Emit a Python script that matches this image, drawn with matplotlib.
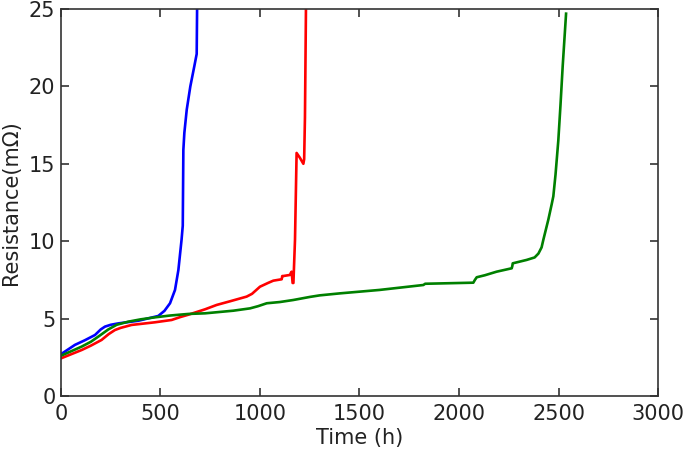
import matplotlib
matplotlib.use("Agg")
import matplotlib.pyplot as plt

blue_t = [0, 70, 120, 171, 200, 221, 250, 288, 389, 489, 520, 548, 573, 590, 606, 612, 615, 620, 632, 650, 670, 682, 684]
blue_r = [2.7, 3.3, 3.6, 3.94, 4.3, 4.48, 4.6, 4.69, 4.86, 5.17, 5.5, 5.99, 6.85, 8.14, 10.1, 11.0, 15.9, 17.0, 18.5, 20.0, 21.3, 22.1, 25.0]

red_t = [0, 104, 150, 204, 240, 271, 300, 355, 472, 556, 600, 640, 724, 782, 850, 933, 960, 1000, 1040, 1067, 1109, 1112, 1117, 1151, 1155, 1159, 1162, 1164, 1168, 1176, 1184, 1200, 1218, 1222, 1226, 1231]
red_r = [2.43, 2.97, 3.25, 3.62, 4.0, 4.26, 4.4, 4.59, 4.76, 4.91, 5.1, 5.25, 5.6, 5.88, 6.12, 6.42, 6.6, 7.06, 7.3, 7.45, 7.54, 7.75, 7.75, 7.82, 7.95, 8.03, 7.6, 7.3, 7.3, 10.1, 15.7, 15.4, 15.0, 15.3, 18.0, 25.0]

green_t = [0, 104, 150, 187, 238, 280, 338, 400, 472, 550, 640, 724, 866, 950, 990, 1034, 1100, 1167, 1251, 1300, 1402, 1600, 1821, 1830, 2072, 2080, 2089, 2130, 2189, 2265, 2268, 2270, 2340, 2380, 2399, 2415, 2424, 2449, 2466, 2474, 2485, 2499, 2510, 2521, 2538]
green_r = [2.6, 3.19, 3.5, 3.83, 4.3, 4.6, 4.8, 4.95, 5.08, 5.2, 5.3, 5.34, 5.51, 5.66, 5.8, 5.99, 6.07, 6.2, 6.4, 6.5, 6.63, 6.85, 7.17, 7.25, 7.32, 7.5, 7.67, 7.8, 8.03, 8.25, 8.4, 8.57, 8.79, 8.95, 9.2, 9.6, 10.1, 11.4, 12.4, 12.9, 14.3, 16.5, 18.8, 21.3, 24.7]

xticks = [0, 500, 1000, 1500, 2000, 2500, 3000]
yticks = [0, 5, 10, 15, 20, 25]

fig = plt.figure(figsize=(6.85, 4.51), dpi=100)
ax = fig.add_axes([0.089, 0.122, 0.8716, 0.858])
lw = 1.9
ax.plot(blue_t, blue_r, color="#0000ff", lw=lw)
ax.plot(red_t, red_r, color="#ff0000", lw=lw)
ax.plot(green_t, green_r, color="#008000", lw=lw)
ax.set_xlim(0, 3000)
ax.set_ylim(0, 25)
ax.set_xticks(xticks)
ax.set_yticks(yticks)
ax.tick_params(direction="in", top=True, right=True, labelsize=15, length=6, width=1.2, colors="#333333", labelcolor="#222222")
ax.tick_params(axis="x", pad=6)
ax.tick_params(axis="y", pad=4)
for s in ax.spines.values():
    s.set_linewidth(1.2)
    s.set_color("#333333")
ax.set_xlabel("Time (h)", fontsize=15, color="#222222", labelpad=3)
ax.set_ylabel("Resistance(mΩ)", fontsize=15, color="#222222", labelpad=6)
fig.savefig("out.png", dpi=100)
